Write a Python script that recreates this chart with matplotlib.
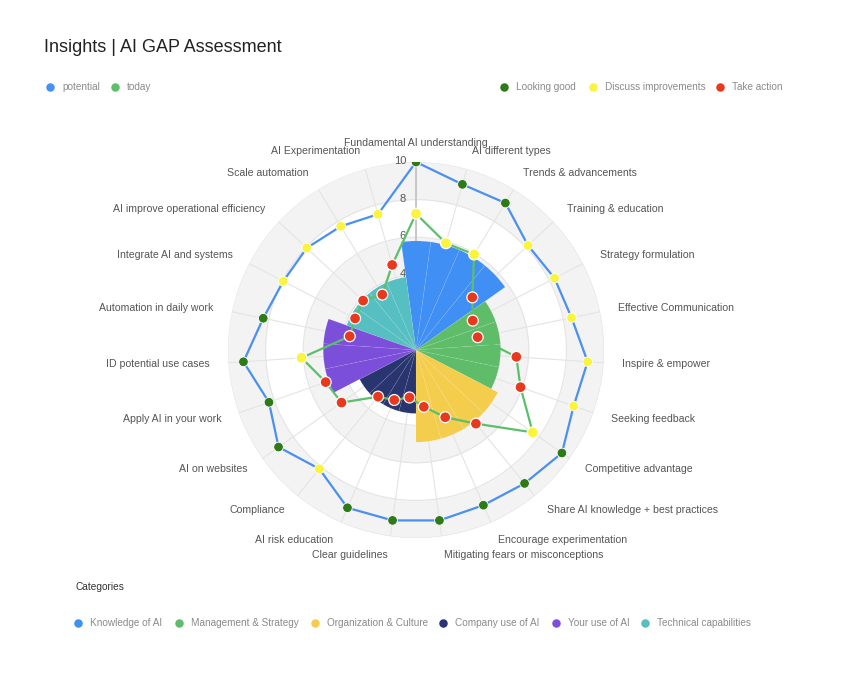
import numpy as np
import matplotlib
matplotlib.use("Agg")
import matplotlib.pyplot as plt
from matplotlib.transforms import offset_copy

plt.rcParams['font.family'] = ['Liberation Sans', 'DejaVu Sans']

labels = [
    "Fundamental AI understanding", "AI different types", "Trends & advancements",
    "Training & education", "Strategy formulation", "Effective Communication",
    "Inspire & empower", "Seeking feedback", "Competitive advantage",
    "Share AI knowledge + best practices", "Encourage experimentation",
    "Mitigating fears or misconceptions", "Clear guidelines", "AI risk education",
    "Compliance", "AI on websites", "Apply AI in your work", "ID potential use cases",
    "Automation in daily work", "Integrate AI and systems",
    "AI improve operational efficiency", "Scale automation", "AI Experimentation",
]
potential = [10, 9.15, 9.15, 8.15, 8.3, 8.45, 9.15, 8.9, 9.5, 9.15, 9.0, 9.15,
             9.15, 9.15, 8.15, 8.95, 8.3, 9.2, 8.3, 7.95, 7.95, 7.7, 7.5]
today = [7.25, 5.9, 5.95, 4.1, 3.4, 3.35, 5.35, 5.9, 7.6, 5.05, 3.9, 3.05,
         2.55, 2.9, 3.2, 4.85, 5.1, 6.1, 3.6, 3.65, 3.85, 3.45, 4.7]
# G = looking good, Y = discuss improvements, R = take action
potential_status = list("GGGYYYYYGGGGGGYGGGGYYYY")
today_status = list("YYYRRRRRYRRRRRRRRYRRRRR")

categories = ["Knowledge of AI", "Management & Strategy", "Organization & Culture",
              "Company use of AI", "Your use of AI", "Technical capabilities"]
category_sizes = [4, 4, 4, 4, 3, 4]
category_colors = ["#3f8ff5", "#5fbd6a", "#f5cd4c", "#28356f", "#7b4fd9", "#56bfc1"]

status_colors = {"G": "#2f7a18", "Y": "#fbf43d", "R": "#e8391f"}
status_names = [("Looking good", "G"), ("Discuss improvements", "Y"), ("Take action", "R")]
blue_line = "#4a90f0"
green_line = "#5cbf6a"

n = len(labels)
theta = np.arange(n) * 2 * np.pi / n
width = 2 * np.pi / n

fig = plt.figure(figsize=(8.44, 6.77), dpi=100)
W, H = 844, 677
cx, cy, R = 416, 350, 188
ax = fig.add_axes([(cx - R) / W, (H - cy - R) / H, 2 * R / W, 2 * R / H], projection='polar')
ax.set_theta_zero_location('N')
ax.set_theta_direction(-1)
ax.set_ylim(0, 10)
ax.set_axis_off()

# background bands
full = np.linspace(0, 2 * np.pi, 361)
for lo, hi in [(0, 2), (4, 6), (8, 10)]:
    ax.fill_between(full, lo, hi, color="#f3f3f3", lw=0, zorder=0)
for r in [2, 4, 6, 8, 10]:
    ax.plot(full, np.full_like(full, r), color="#e4e4e4", lw=0.8, zorder=1)
for t in theta:
    ax.plot([t, t], [0, 10], color="#e4e4e4", lw=0.8, zorder=1)
ax.plot([0, 0], [0, 10], color="#c4c4c4", lw=1.3, zorder=1)

# radial tick labels
tick_tr = offset_copy(ax.transData, fig=fig, x=-10, y=1, units='dots')
for r in [2, 4, 6, 8, 10]:
    ax.text(0, r, str(r), transform=tick_tr, ha='right', va='center',
            fontsize=8, color="#555555", zorder=2)

# category bars = mean of today's score per category
idx = 0
for name, size, col in zip(categories, category_sizes, category_colors):
    vals = today[idx:idx + size]
    ax.bar(theta[idx:idx + size], [np.mean(vals)] * size, width=width, color=col,
           edgecolor=(1, 1, 1, 0.08), linewidth=0.6, zorder=3)
    idx += size

closed = np.append(theta, theta[0])
ax.plot(closed, potential + potential[:1], color=blue_line, lw=1.6, zorder=4)
ax.plot(closed, today + today[:1], color=green_line, lw=1.6, zorder=4)
ax.scatter(theta, potential, s=48, c=[status_colors[s] for s in potential_status],
           edgecolors="white", linewidths=0.6, zorder=5)
ax.scatter(theta, today, s=62, c=[status_colors[s] for s in today_status],
           edgecolors="white", linewidths=0.9, zorder=5)

# point labels
for t, lab in zip(theta, labels):
    deg = np.degrees(t)
    if abs(deg) < 1 or abs(deg - 180) < 1:
        ha = 'center'
    elif deg < 180:
        ha = 'left'
    else:
        ha = 'right'
    ax.text(t, 11.0, lab, ha=ha, va='center', fontsize=7.6, color="#555555", clip_on=False)

# overlay in pixel coordinates for title and legends
ov = fig.add_axes([0, 0, 1, 1], facecolor='none')
ov.set_xlim(0, W)
ov.set_ylim(H, 0)
ov.set_axis_off()

ov.text(44, 48, "Insights | AI GAP Assessment", fontsize=13, color="#222222",
        ha='left', va='center')

def legend_item(x, y, col, text, size=7.2):
    ov.scatter([x], [y], s=26, color=col, zorder=3)
    ov.text(x + 12, y, text, fontsize=size, color="#8a8a8a", ha='left', va='center')

legend_item(50, 87, blue_line, "potential")
legend_item(115, 87, green_line, "today")
for x, (name, key) in zip([504, 593, 720], status_names):
    legend_item(x, 87, status_colors[key], name)

ov.text(75, 587, "Categories", fontsize=7.3, color="#333333", ha='left', va='center')
for x, name, col in zip([78, 179, 315, 443, 556, 645], categories, category_colors):
    legend_item(x, 623, col, name)

fig.savefig("out.png", dpi=100)
